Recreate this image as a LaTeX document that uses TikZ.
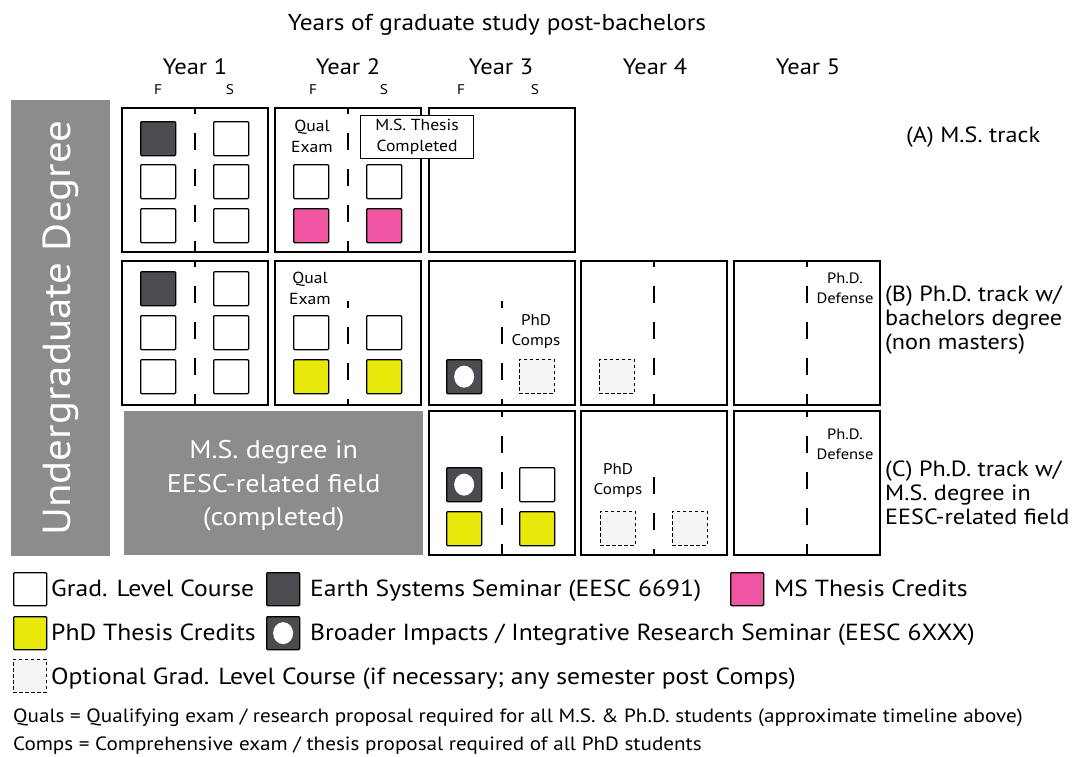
\documentclass[tikz,border=0pt]{standalone}
\usepackage{fontspec}
\setmainfont{PT Sans}[FakeStretch=1.1]
\definecolor{ugrey}{HTML}{8C8C8C}
\definecolor{darksem}{HTML}{4B4B50}
\definecolor{mspink}{HTML}{EF55A0}
\definecolor{phdyel}{HTML}{E8E80A}
\definecolor{optfill}{HTML}{F5F5F5}
\newcommand\fs[2]{\fontsize{#1}{#2}\selectfont}
\begin{document}
\begin{tikzpicture}[x=1pt,y=-1pt,
 yearbox/.style={draw, line width=1.7pt, minimum width=146pt, minimum height=144pt, anchor=north west, inner sep=0pt, outer sep=0pt},
 sq/.style={draw, line width=1.3pt, rounded corners=1pt, minimum width=35pt, minimum height=34pt, anchor=north west, inner sep=0pt},
 course/.style={sq, fill=white},
 seminar/.style={sq, fill=darksem},
 mscred/.style={sq, fill=mspink},
 phdcred/.style={sq, fill=phdyel},
 optc/.style={sq, line width=0.9pt, dash pattern=on 3.5pt off 2.5pt, fill=optfill, rounded corners=0pt},
 lsq/.style={minimum width=33pt, minimum height=33pt},
 divline/.style={line width=1.8pt, dash pattern=on 17pt off 19pt, dash phase=11pt},
 lbl/.style={font=\fs{16}{21}, align=center, inner sep=0pt},
 comps/.style={font=\fs{15.5}{20}, align=center, inner sep=0pt},
 small/.style={font=\fs{15}{20}, align=center, inner sep=0pt},
 yr/.style={font=\fs{22.3}{26}, inner sep=0pt},
 sem/.style={font=\fs{14}{15}, inner sep=0pt},
 track/.style={font=\fs{22}{24}, align=left, anchor=west, inner sep=0pt},
 leg/.style={font=\fs{23.3}{24}, anchor=base west, inner sep=0pt},
 note/.style={font=\fs{19.2}{20}, anchor=base west, inner sep=0pt},
 bicirc/.style={fill=white}
]
\useasboundingbox (0,0) rectangle (1088,756);

% header
\node[font=\fs{23}{26}, inner sep=0pt] (title) at (497,25) {Years of graduate study post-bachelors};
\node[yr] (Y1) at (195,67) {Year 1};
\node[yr] (Y2) at (348,67) {Year 2};
\node[yr] (Y3) at (501,67) {Year 3};
\node[yr] (Y4) at (655,67) {Year 4};
\node[yr] (Y5) at (808,67) {Year 5};
\node[sem] (f1) at (158,90) {F};
\node[sem] (s1) at (230,90) {S};
\node[sem] (f2) at (313,90) {F};
\node[sem] (s2) at (384,90) {S};
\node[sem] (f3) at (461,90) {F};
\node[sem] (s3) at (535,90) {S};

% undergraduate bar
\node[fill=ugrey, minimum width=99pt, minimum height=456pt, anchor=north west, inner sep=0pt] (ug) at (11,100) {};
\node[rotate=90, text=white, font=\fs{39}{44}, inner sep=0pt] (ugt) at (ug.center) {Undergraduate Degree};

% ---------- Row A ----------
\node[yearbox] (a1) at (122,108) {};
\node[yearbox] (a2) at (275,108) {};
\node[yearbox] (a3) at (429,108) {};
\draw[divline] (a1.north) -- (a1.south);
\draw[divline] (a2.north) -- (a2.south);
\node[seminar] (a1f1) at (140,121) {};
\node[course] (a1s1) at (213,121) {};
\node[course] (a1f2) at (140,164) {};
\node[course] (a1s2) at (213,164) {};
\node[course] (a1f3) at (140,208) {};
\node[course] (a1s3) at (213,208) {};
\node[lbl] (aqual) at (312,136) {Qual\\Exam};
\node[course] (a2f2) at (293,164) {};
\node[course] (a2s2) at (366,164) {};
\node[mscred] (a2f3) at (293,208) {};
\node[mscred] (a2s3) at (366,208) {};
\node[draw, line width=1.2pt, fill=white, minimum width=113pt, minimum height=43pt, anchor=north west, inner sep=0pt] (msdone) at (360,115) {};
\node[font=\fs{16}{21}, align=center, inner sep=0pt] (msdonet) at (msdone.center) {M.S. Thesis\\Completed};
\node[track] (trA) at (906,137) {(A) M.S. track};

% ---------- Row B ----------
\node[yearbox] (b1) at (122,261) {};
\node[yearbox] (b2) at (275,261) {};
\node[yearbox] (b3) at (429,261) {};
\node[yearbox] (b4) at (581,261) {};
\node[yearbox] (b5) at (734,261) {};
\draw[divline] (b1.north) -- (b1.south);
\draw[divline] (b2.south) -- ([yshift=-40pt]b2.north);
\draw[divline] (b3.south) -- ([yshift=-40pt]b3.north);
\draw[divline] (b4.north) -- (b4.south);
\draw[divline] (b5.north) -- (b5.south);
\node[seminar] (b1f1) at (140,271) {};
\node[course] (b1s1) at (213,271) {};
\node[course] (b1f2) at (140,315) {};
\node[course] (b1s2) at (213,315) {};
\node[course] (b1f3) at (140,359) {};
\node[course] (b1s3) at (213,359) {};
\node[lbl] (bqual) at (310,288) {Qual\\Exam};
\node[course] (b2f2) at (293,315) {};
\node[course] (b2s2) at (366,315) {};
\node[phdcred] (b2f3) at (293,359) {};
\node[phdcred] (b2s3) at (366,359) {};
\node[seminar] (b3f3) at (446,359) {};
\fill[bicirc] (b3f3.center) ellipse [x radius=10pt, y radius=11pt];
\node[optc] (b3s3) at (519,359) {};
\node[comps] (bcomps) at (536,332) {PhD\\Comps};
\node[optc] (b4f3) at (599,359) {};
\node[small] (bdef) at (845,288) {Ph.D.\\Defense};
\node[track] (trB) at (885,320) {(B) Ph.D. track w/\\bachelors degree\\(non masters)};

% ---------- Row C ----------
\node[fill=ugrey, minimum width=299pt, minimum height=144pt, anchor=north west, inner sep=0pt] (msbox) at (124,411) {};
\node[text=white, font=\fs{25.5}{33.5}, align=center, inner sep=0pt] (msboxt) at ([yshift=-3pt]msbox.center) {M.S. degree in\\EESC-related field\\(completed)};
\node[yearbox] (c3) at (429,411) {};
\node[yearbox] (c4) at (581,411) {};
\node[yearbox] (c5) at (734,411) {};
\draw[divline] (c3.north) -- (c3.south);
\draw[divline] (c4.south) -- ([yshift=-54pt]c4.north);
\draw[divline] (c5.north) -- (c5.south);
\node[seminar] (c3f1) at (446,467) {};
\fill[bicirc] (c3f1.center) ellipse [x radius=10pt, y radius=11pt];
\node[course] (c3s1) at (519,467) {};
\node[phdcred] (c3f2) at (446,511) {};
\node[phdcred] (c3s2) at (519,511) {};
\node[comps] (ccomps) at (618,481) {PhD\\Comps};
\node[optc] (c4f2) at (600,511) {};
\node[optc] (c4s2) at (672,511) {};
\node[small] (cdef) at (845,444) {Ph.D.\\Defense};
\node[track] (trC) at (885,493) {(C) Ph.D. track w/\\M.S. degree in\\EESC-related field};

% ---------- Legend ----------
\node[course, lsq] (lg1) at (13,572) {};
\node[leg] (lg1t) at (51,596.5) {Grad. Level Course};
\node[seminar, lsq] (lg2) at (266,572) {};
\node[leg] (lg2t) at (310,596.5) {Earth Systems Seminar (EESC 6691)};
\node[mscred, lsq] (lg3) at (730,572) {};
\node[leg] (lg3t) at (774,596.5) {MS Thesis Credits};
\node[phdcred, lsq] (lg4) at (13,616) {};
\node[leg] (lg4t) at (51,640.5) {PhD Thesis Credits};
\node[seminar, lsq] (lg5) at (266,616) {};
\fill[bicirc] (lg5.center) ellipse [x radius=10pt, y radius=11pt];
\node[leg] (lg5t) at (310,640.5) {Broader Impacts / Integrative Research Seminar (EESC 6XXX)};
\node[optc, lsq] (lg6) at (13,659) {};
\node[leg] (lg6t) at (51,684) {Optional Grad. Level Course (if necessary; any semester post Comps)};
\node[note] (n1) at (13,722) {Quals = Qualifying exam / research proposal required for all M.S. \& Ph.D. students (approximate timeline above)};
\node[note] (n2) at (13,750) {Comps = Comprehensive exam / thesis proposal required of all PhD students};
\end{tikzpicture}
\end{document}
